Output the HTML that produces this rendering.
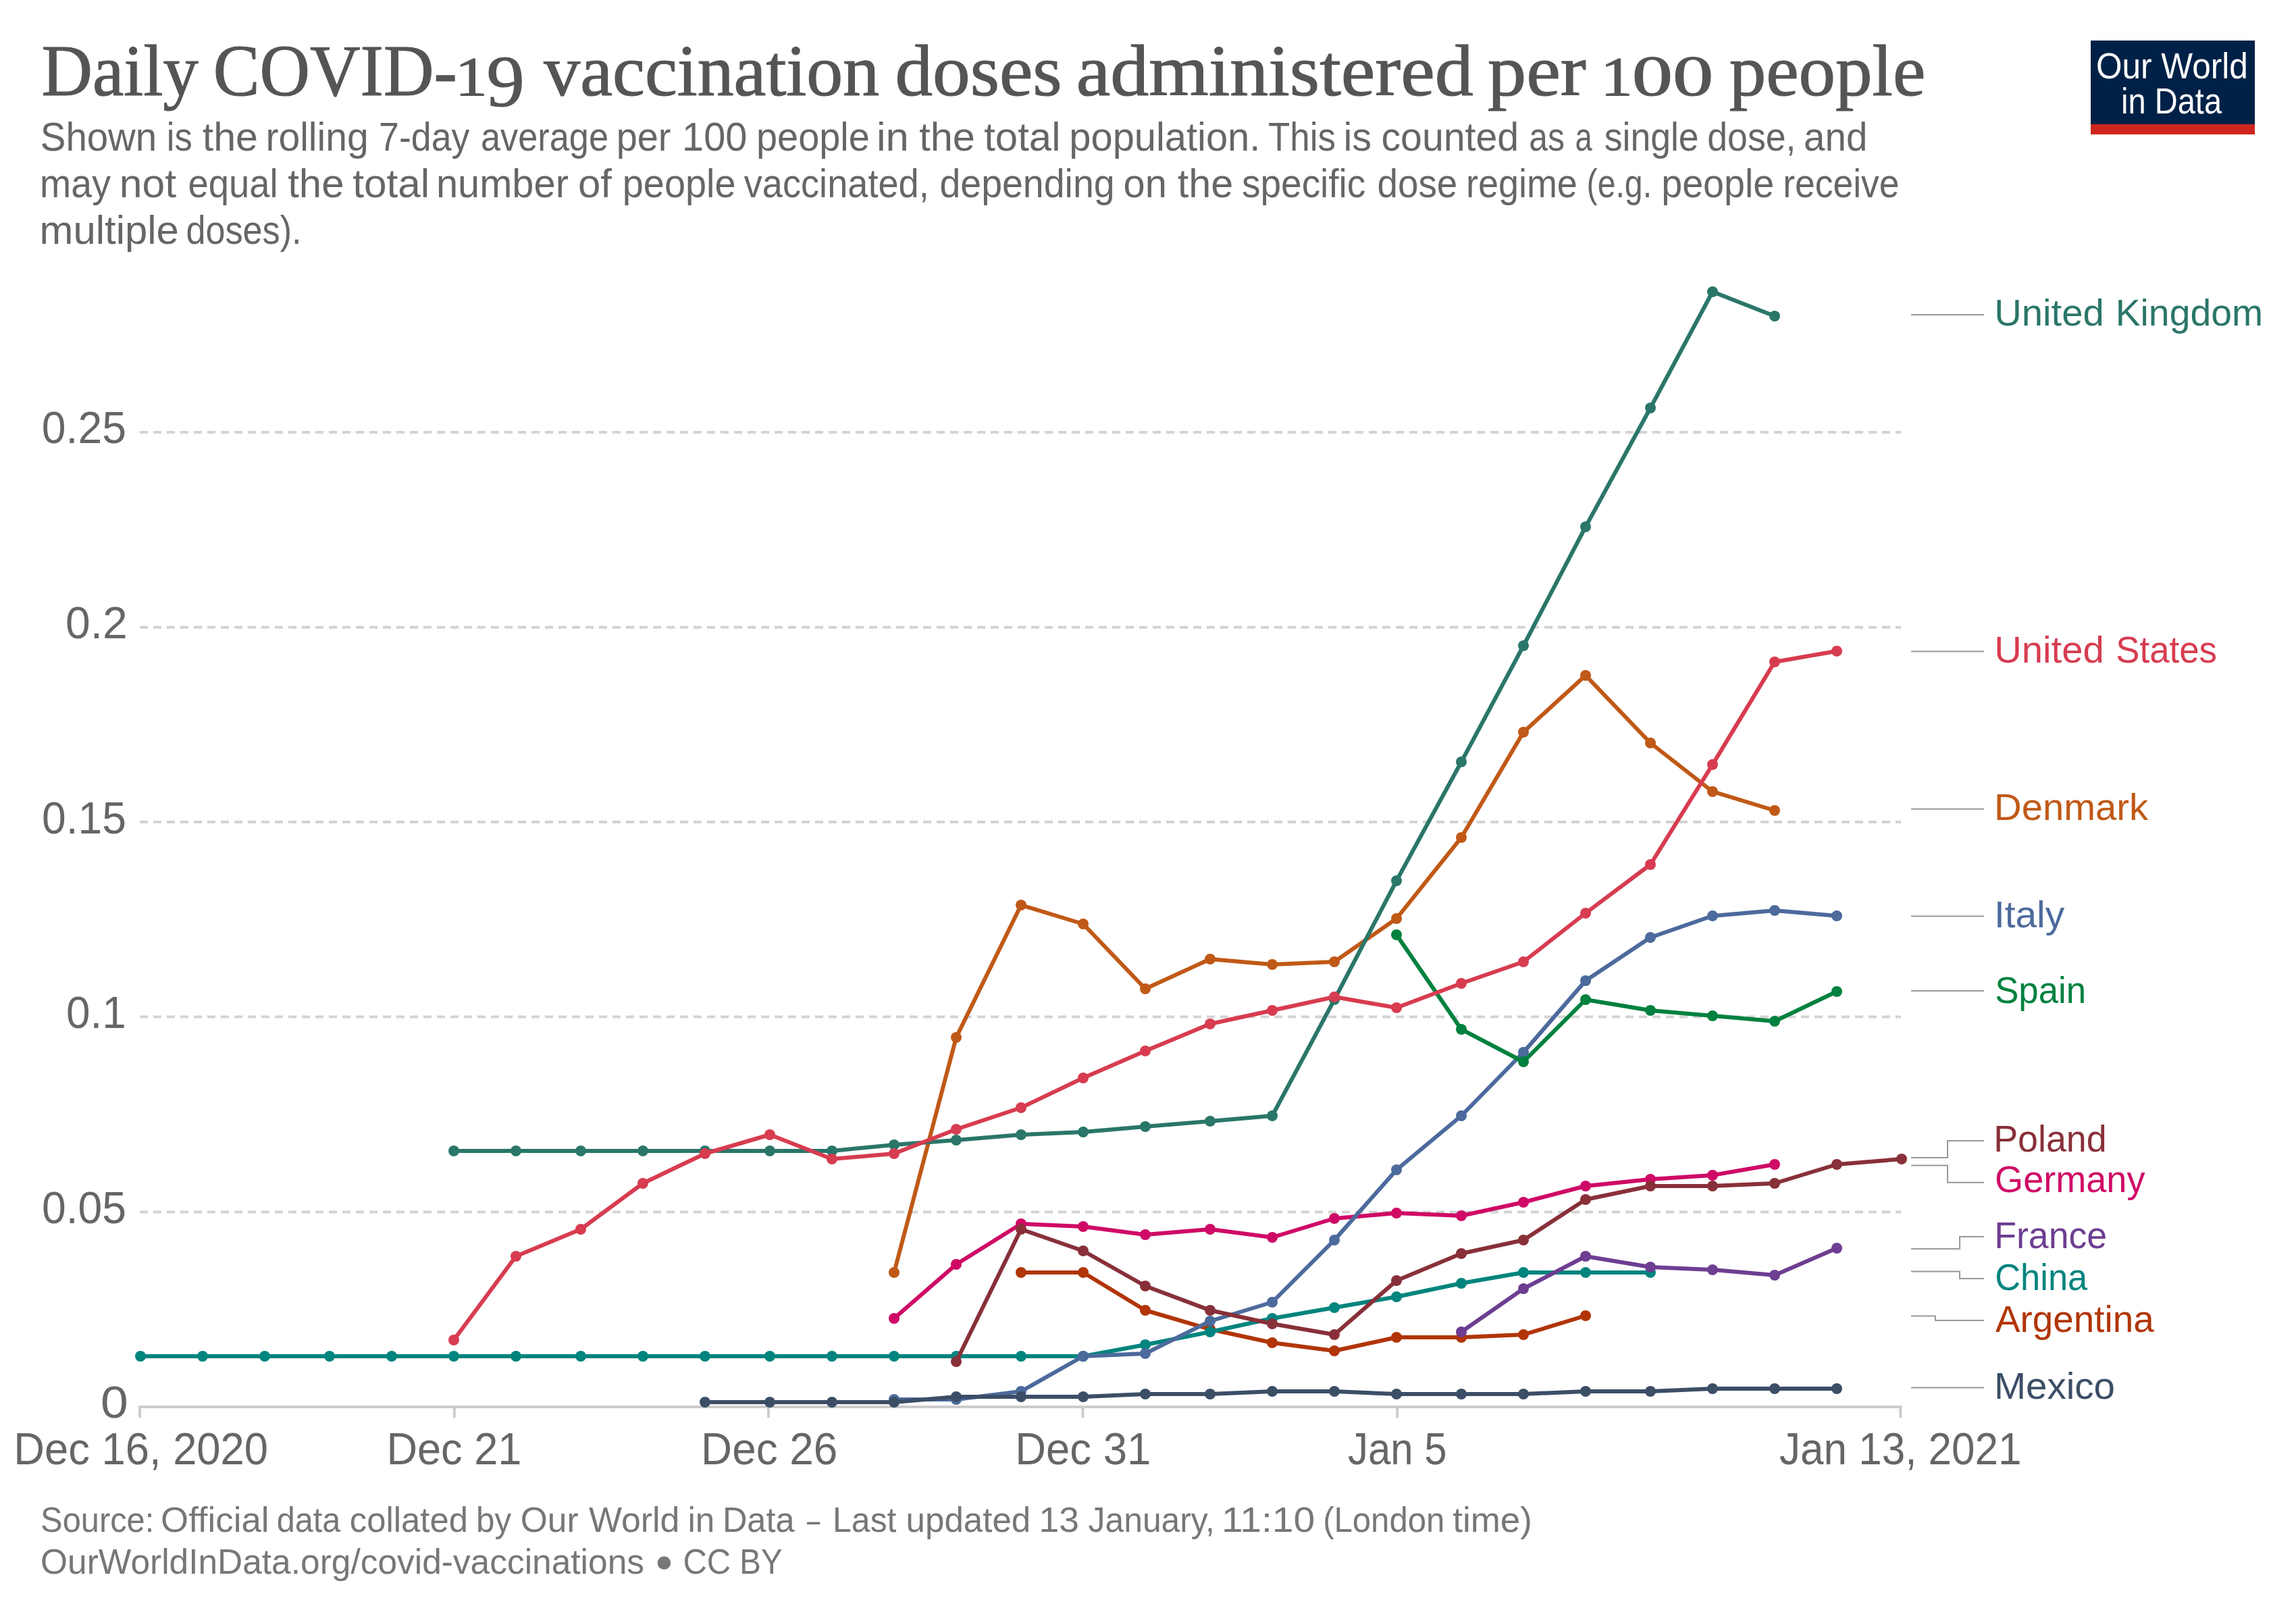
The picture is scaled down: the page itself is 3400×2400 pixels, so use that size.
<!DOCTYPE html>
<html><head><meta charset="utf-8"><style>
html,body{margin:0;padding:0;background:#fff;}
svg{display:block;}
text{font-family:"Liberation Sans",sans-serif;}
.serif{font-family:"Liberation Serif",serif;}
</style></head><body>
<svg width="3400" height="2400" viewBox="0 0 3400 2400">
<rect width="3400" height="2400" fill="#fff"/>
<text class="serif" x="61.5" y="140.6" font-size="107" fill="#555" textLength="232.2" lengthAdjust="spacingAndGlyphs" stroke="#555" stroke-width="1.2">Daily</text>
<text class="serif" x="315.7" y="140.6" font-size="107" fill="#555" textLength="361.1" lengthAdjust="spacingAndGlyphs" stroke="#555" stroke-width="1.2">COVID-</text>
<text class="serif" x="674.0" y="140.6" font-size="82" fill="#555" textLength="47.8" lengthAdjust="spacingAndGlyphs" stroke="#555" stroke-width="1.2">1</text>
<text class="serif" x="720.4" y="157" font-size="107" fill="#555" textLength="56.3" lengthAdjust="spacingAndGlyphs" stroke="#555" stroke-width="1.2">9</text>
<text class="serif" x="805.3" y="140.6" font-size="107" fill="#555" textLength="496.8" lengthAdjust="spacingAndGlyphs" stroke="#555" stroke-width="1.2">vaccination</text>
<text class="serif" x="1325.5" y="140.6" font-size="107" fill="#555" textLength="247.0" lengthAdjust="spacingAndGlyphs" stroke="#555" stroke-width="1.2">doses</text>
<text class="serif" x="1593.7" y="140.6" font-size="107" fill="#555" textLength="588.0" lengthAdjust="spacingAndGlyphs" stroke="#555" stroke-width="1.2">administered</text>
<text class="serif" x="2203.1" y="140.6" font-size="107" fill="#555" textLength="145.8" lengthAdjust="spacingAndGlyphs" stroke="#555" stroke-width="1.2">per</text>
<text class="serif" x="2370.3" y="140.6" font-size="82" fill="#555" textLength="47.5" lengthAdjust="spacingAndGlyphs" stroke="#555" stroke-width="1.2">1</text>
<text class="serif" x="2416.7" y="140.6" font-size="84" fill="#555" textLength="120.6" lengthAdjust="spacingAndGlyphs" stroke="#555" stroke-width="1.2">00</text>
<text class="serif" x="2560.7" y="140.6" font-size="107" fill="#555" textLength="290.6" lengthAdjust="spacingAndGlyphs" stroke="#555" stroke-width="1.2">people</text>
<text x="59.8" y="222.9" font-size="59" fill="#666" textLength="172.4" lengthAdjust="spacingAndGlyphs">Shown</text>
<text x="246.8" y="222.9" font-size="59" fill="#666" textLength="37.9" lengthAdjust="spacingAndGlyphs">is</text>
<text x="299.7" y="222.9" font-size="59" fill="#666" textLength="82.3" lengthAdjust="spacingAndGlyphs">the</text>
<text x="393.4" y="222.9" font-size="59" fill="#666" textLength="152.3" lengthAdjust="spacingAndGlyphs">rolling</text>
<text x="561.1" y="222.9" font-size="59" fill="#666" textLength="134.4" lengthAdjust="spacingAndGlyphs">7-day</text>
<text x="711.9" y="222.9" font-size="59" fill="#666" textLength="189.1" lengthAdjust="spacingAndGlyphs">average</text>
<text x="912.7" y="222.9" font-size="59" fill="#666" textLength="80.8" lengthAdjust="spacingAndGlyphs">per</text>
<text x="1010.1" y="222.9" font-size="59" fill="#666" textLength="96.2" lengthAdjust="spacingAndGlyphs">100</text>
<text x="1120.0" y="222.9" font-size="59" fill="#666" textLength="167.8" lengthAdjust="spacingAndGlyphs">people</text>
<text x="1297.9" y="222.9" font-size="59" fill="#666" textLength="48.0" lengthAdjust="spacingAndGlyphs">in</text>
<text x="1361.2" y="222.9" font-size="59" fill="#666" textLength="82.8" lengthAdjust="spacingAndGlyphs">the</text>
<text x="1457.2" y="222.9" font-size="59" fill="#666" textLength="113.3" lengthAdjust="spacingAndGlyphs">total</text>
<text x="1583.3" y="222.9" font-size="59" fill="#666" textLength="283.0" lengthAdjust="spacingAndGlyphs">population.</text>
<text x="1878.1" y="222.9" font-size="59" fill="#666" textLength="99.7" lengthAdjust="spacingAndGlyphs">This</text>
<text x="1989.4" y="222.9" font-size="59" fill="#666" textLength="41.5" lengthAdjust="spacingAndGlyphs">is</text>
<text x="2045.5" y="222.9" font-size="59" fill="#666" textLength="203.6" lengthAdjust="spacingAndGlyphs">counted</text>
<text x="2264.3" y="222.9" font-size="59" fill="#666" textLength="52.6" lengthAdjust="spacingAndGlyphs">as</text>
<text x="2332.5" y="222.9" font-size="59" fill="#666" textLength="25.2" lengthAdjust="spacingAndGlyphs">a</text>
<text x="2375.8" y="222.9" font-size="59" fill="#666" textLength="139.8" lengthAdjust="spacingAndGlyphs">single</text>
<text x="2528.3" y="222.9" font-size="59" fill="#666" textLength="131.1" lengthAdjust="spacingAndGlyphs">dose,</text>
<text x="2671.1" y="222.9" font-size="59" fill="#666" textLength="94.2" lengthAdjust="spacingAndGlyphs">and</text>
<text x="59.1" y="292.2" font-size="59" fill="#666" textLength="104.8" lengthAdjust="spacingAndGlyphs">may</text>
<text x="176.8" y="292.2" font-size="59" fill="#666" textLength="84.2" lengthAdjust="spacingAndGlyphs">not</text>
<text x="278.4" y="292.2" font-size="59" fill="#666" textLength="133.1" lengthAdjust="spacingAndGlyphs">equal</text>
<text x="426.2" y="292.2" font-size="59" fill="#666" textLength="83.4" lengthAdjust="spacingAndGlyphs">the</text>
<text x="522.2" y="292.2" font-size="59" fill="#666" textLength="113.9" lengthAdjust="spacingAndGlyphs">total</text>
<text x="645.9" y="292.2" font-size="59" fill="#666" textLength="196.0" lengthAdjust="spacingAndGlyphs">number</text>
<text x="855.9" y="292.2" font-size="59" fill="#666" textLength="50.0" lengthAdjust="spacingAndGlyphs">of</text>
<text x="921.8" y="292.2" font-size="59" fill="#666" textLength="167.8" lengthAdjust="spacingAndGlyphs">people</text>
<text x="1101.8" y="292.2" font-size="59" fill="#666" textLength="273.9" lengthAdjust="spacingAndGlyphs">vaccinated,</text>
<text x="1391.4" y="292.2" font-size="59" fill="#666" textLength="259.3" lengthAdjust="spacingAndGlyphs">depending</text>
<text x="1663.6" y="292.2" font-size="59" fill="#666" textLength="64.3" lengthAdjust="spacingAndGlyphs">on</text>
<text x="1743.8" y="292.2" font-size="59" fill="#666" textLength="82.4" lengthAdjust="spacingAndGlyphs">the</text>
<text x="1839.0" y="292.2" font-size="59" fill="#666" textLength="183.3" lengthAdjust="spacingAndGlyphs">specific</text>
<text x="2039.6" y="292.2" font-size="59" fill="#666" textLength="118.6" lengthAdjust="spacingAndGlyphs">dose</text>
<text x="2171.0" y="292.2" font-size="59" fill="#666" textLength="164.8" lengthAdjust="spacingAndGlyphs">regime</text>
<text x="2349.6" y="292.2" font-size="59" fill="#666" textLength="96.5" lengthAdjust="spacingAndGlyphs">(e.g.</text>
<text x="2460.2" y="292.2" font-size="59" fill="#666" textLength="167.1" lengthAdjust="spacingAndGlyphs">people</text>
<text x="2640.2" y="292.2" font-size="59" fill="#666" textLength="172.4" lengthAdjust="spacingAndGlyphs">receive</text>
<text x="58.6" y="360.9" font-size="59" fill="#666" textLength="206.2" lengthAdjust="spacingAndGlyphs">multiple</text>
<text x="275.4" y="360.9" font-size="59" fill="#666" textLength="171.2" lengthAdjust="spacingAndGlyphs">doses).</text>
<rect x="3096" y="60" width="243" height="125" fill="#002147"/>
<rect x="3096" y="184" width="243" height="15" fill="#ce261e"/>
<text x="3103.9" y="115.7" font-size="54" fill="#fff" textLength="224.9" lengthAdjust="spacingAndGlyphs">Our World</text>
<text x="3141.0" y="168" font-size="54" fill="#fff" textLength="149.1" lengthAdjust="spacingAndGlyphs">in Data</text>
<line x1="207" y1="640" x2="2815" y2="640" stroke="#d3d3d3" stroke-width="4" stroke-dasharray="12,8"/>
<line x1="207" y1="928.7" x2="2815" y2="928.7" stroke="#d3d3d3" stroke-width="4" stroke-dasharray="12,8"/>
<line x1="207" y1="1217" x2="2815" y2="1217" stroke="#d3d3d3" stroke-width="4" stroke-dasharray="12,8"/>
<line x1="207" y1="1505.5" x2="2815" y2="1505.5" stroke="#d3d3d3" stroke-width="4" stroke-dasharray="12,8"/>
<line x1="207" y1="1794.4" x2="2815" y2="1794.4" stroke="#d3d3d3" stroke-width="4" stroke-dasharray="12,8"/>
<line x1="205" y1="2083" x2="2816.3" y2="2083" stroke="#ccc" stroke-width="4"/>
<line x1="207" y1="2081" x2="207" y2="2099" stroke="#ccc" stroke-width="4"/>
<text x="20.2" y="2167.7" font-size="66" fill="#666" textLength="376.9" lengthAdjust="spacingAndGlyphs">Dec 16, 2020</text>
<line x1="672.8" y1="2081" x2="672.8" y2="2099" stroke="#ccc" stroke-width="4"/>
<text x="572.4" y="2167.7" font-size="66" fill="#666" textLength="200.1" lengthAdjust="spacingAndGlyphs">Dec 21</text>
<line x1="1138" y1="2081" x2="1138" y2="2099" stroke="#ccc" stroke-width="4"/>
<text x="1038.1" y="2167.7" font-size="66" fill="#666" textLength="202.2" lengthAdjust="spacingAndGlyphs">Dec 26</text>
<line x1="1603.5" y1="2081" x2="1603.5" y2="2099" stroke="#ccc" stroke-width="4"/>
<text x="1503.2" y="2167.7" font-size="66" fill="#666" textLength="201.2" lengthAdjust="spacingAndGlyphs">Dec 31</text>
<line x1="2069.2" y1="2081" x2="2069.2" y2="2099" stroke="#ccc" stroke-width="4"/>
<text x="1996.1" y="2167.7" font-size="66" fill="#666" textLength="146.4" lengthAdjust="spacingAndGlyphs">Jan 5</text>
<line x1="2814.3" y1="2081" x2="2814.3" y2="2099" stroke="#ccc" stroke-width="4"/>
<text x="2635.1" y="2167.7" font-size="66" fill="#666" textLength="358.4" lengthAdjust="spacingAndGlyphs">Jan 13, 2021</text>
<text x="61.8" y="656" font-size="66" fill="#666" textLength="125.2" lengthAdjust="spacingAndGlyphs">0.25</text>
<text x="97.0" y="944.7" font-size="66" fill="#666" textLength="91.8" lengthAdjust="spacingAndGlyphs">0.2</text>
<text x="61.9" y="1233.7" font-size="66" fill="#666" textLength="125.1" lengthAdjust="spacingAndGlyphs">0.15</text>
<text x="98.1" y="1522" font-size="66" fill="#666" textLength="88.8" lengthAdjust="spacingAndGlyphs">0.1</text>
<text x="61.9" y="1811" font-size="66" fill="#666" textLength="125.1" lengthAdjust="spacingAndGlyphs">0.05</text>
<text x="149.1" y="2098.7" font-size="66" fill="#666" textLength="40.8" lengthAdjust="spacingAndGlyphs">0</text>
<g fill="#b13507" stroke="#b13507"><path d="M1512,1884 L1604,1884 L1696,1940 L1792,1968 L1884,1988 L1976,2000 L2068,1980 L2164,1980 L2256,1976 L2348,1948" fill="none" stroke-width="6" stroke-linejoin="round"/>
<circle cx="1512" cy="1884" r="8" stroke="none"/><circle cx="1604" cy="1884" r="8" stroke="none"/><circle cx="1696" cy="1940" r="8" stroke="none"/><circle cx="1792" cy="1968" r="8" stroke="none"/><circle cx="1884" cy="1988" r="8" stroke="none"/><circle cx="1976" cy="2000" r="8" stroke="none"/><circle cx="2068" cy="1980" r="8" stroke="none"/><circle cx="2164" cy="1980" r="8" stroke="none"/><circle cx="2256" cy="1976" r="8" stroke="none"/><circle cx="2348" cy="1948" r="8" stroke="none"/></g>
<g fill="#00847e" stroke="#00847e"><path d="M208,2008 L300,2008 L392,2008 L488,2008 L580,2008 L672,2008 L764,2008 L860,2008 L952,2008 L1044,2008 L1140,2008 L1232,2008 L1324,2008 L1416,2008 L1512,2008 L1604,2008 L1696,1991 L1792,1972 L1884,1952 L1976,1936 L2068,1920 L2164,1900 L2256,1884 L2348,1884 L2444,1884" fill="none" stroke-width="6" stroke-linejoin="round"/>
<circle cx="208" cy="2008" r="8" stroke="none"/><circle cx="300" cy="2008" r="8" stroke="none"/><circle cx="392" cy="2008" r="8" stroke="none"/><circle cx="488" cy="2008" r="8" stroke="none"/><circle cx="580" cy="2008" r="8" stroke="none"/><circle cx="672" cy="2008" r="8" stroke="none"/><circle cx="764" cy="2008" r="8" stroke="none"/><circle cx="860" cy="2008" r="8" stroke="none"/><circle cx="952" cy="2008" r="8" stroke="none"/><circle cx="1044" cy="2008" r="8" stroke="none"/><circle cx="1140" cy="2008" r="8" stroke="none"/><circle cx="1232" cy="2008" r="8" stroke="none"/><circle cx="1324" cy="2008" r="8" stroke="none"/><circle cx="1416" cy="2008" r="8" stroke="none"/><circle cx="1512" cy="2008" r="8" stroke="none"/><circle cx="1604" cy="2008" r="8" stroke="none"/><circle cx="1696" cy="1991" r="8" stroke="none"/><circle cx="1792" cy="1972" r="8" stroke="none"/><circle cx="1884" cy="1952" r="8" stroke="none"/><circle cx="1976" cy="1936" r="8" stroke="none"/><circle cx="2068" cy="1920" r="8" stroke="none"/><circle cx="2164" cy="1900" r="8" stroke="none"/><circle cx="2256" cy="1884" r="8" stroke="none"/><circle cx="2348" cy="1884" r="8" stroke="none"/><circle cx="2444" cy="1884" r="8" stroke="none"/></g>
<g fill="#c05917" stroke="#c05917"><path d="M1324,1884 L1416,1536 L1512,1340 L1604,1368 L1696,1464 L1792,1420 L1884,1428 L1976,1424 L2068,1360 L2164,1240 L2256,1084 L2348,1000 L2444,1100 L2536,1172 L2628,1200" fill="none" stroke-width="6" stroke-linejoin="round"/>
<circle cx="1324" cy="1884" r="8" stroke="none"/><circle cx="1416" cy="1536" r="8" stroke="none"/><circle cx="1512" cy="1340" r="8" stroke="none"/><circle cx="1604" cy="1368" r="8" stroke="none"/><circle cx="1696" cy="1464" r="8" stroke="none"/><circle cx="1792" cy="1420" r="8" stroke="none"/><circle cx="1884" cy="1428" r="8" stroke="none"/><circle cx="1976" cy="1424" r="8" stroke="none"/><circle cx="2068" cy="1360" r="8" stroke="none"/><circle cx="2164" cy="1240" r="8" stroke="none"/><circle cx="2256" cy="1084" r="8" stroke="none"/><circle cx="2348" cy="1000" r="8" stroke="none"/><circle cx="2444" cy="1100" r="8" stroke="none"/><circle cx="2536" cy="1172" r="8" stroke="none"/><circle cx="2628" cy="1200" r="8" stroke="none"/></g>
<g fill="#6d3e91" stroke="#6d3e91"><path d="M2164,1972 L2256,1908 L2348,1860 L2444,1876 L2536,1880 L2628,1888 L2720,1848" fill="none" stroke-width="6" stroke-linejoin="round"/>
<circle cx="2164" cy="1972" r="8" stroke="none"/><circle cx="2256" cy="1908" r="8" stroke="none"/><circle cx="2348" cy="1860" r="8" stroke="none"/><circle cx="2444" cy="1876" r="8" stroke="none"/><circle cx="2536" cy="1880" r="8" stroke="none"/><circle cx="2628" cy="1888" r="8" stroke="none"/><circle cx="2720" cy="1848" r="8" stroke="none"/></g>
<g fill="#cf0a66" stroke="#cf0a66"><path d="M1324,1952 L1416,1872 L1512,1812 L1604,1816 L1696,1828 L1792,1820 L1884,1832 L1976,1804 L2068,1796 L2164,1800 L2256,1780 L2348,1756 L2444,1746 L2536,1740 L2628,1724" fill="none" stroke-width="6" stroke-linejoin="round"/>
<circle cx="1324" cy="1952" r="8" stroke="none"/><circle cx="1416" cy="1872" r="8" stroke="none"/><circle cx="1512" cy="1812" r="8" stroke="none"/><circle cx="1604" cy="1816" r="8" stroke="none"/><circle cx="1696" cy="1828" r="8" stroke="none"/><circle cx="1792" cy="1820" r="8" stroke="none"/><circle cx="1884" cy="1832" r="8" stroke="none"/><circle cx="1976" cy="1804" r="8" stroke="none"/><circle cx="2068" cy="1796" r="8" stroke="none"/><circle cx="2164" cy="1800" r="8" stroke="none"/><circle cx="2256" cy="1780" r="8" stroke="none"/><circle cx="2348" cy="1756" r="8" stroke="none"/><circle cx="2444" cy="1746" r="8" stroke="none"/><circle cx="2536" cy="1740" r="8" stroke="none"/><circle cx="2628" cy="1724" r="8" stroke="none"/></g>
<g fill="#4c6a9c" stroke="#4c6a9c"><path d="M1324,2072 L1416,2072 L1512,2060 L1604,2008 L1696,2004 L1792,1956 L1884,1928 L1976,1836 L2068,1732 L2164,1652 L2256,1558 L2348,1452 L2444,1388 L2536,1356 L2628,1348 L2720,1356" fill="none" stroke-width="6" stroke-linejoin="round"/>
<circle cx="1324" cy="2072" r="8" stroke="none"/><circle cx="1416" cy="2072" r="8" stroke="none"/><circle cx="1512" cy="2060" r="8" stroke="none"/><circle cx="1604" cy="2008" r="8" stroke="none"/><circle cx="1696" cy="2004" r="8" stroke="none"/><circle cx="1792" cy="1956" r="8" stroke="none"/><circle cx="1884" cy="1928" r="8" stroke="none"/><circle cx="1976" cy="1836" r="8" stroke="none"/><circle cx="2068" cy="1732" r="8" stroke="none"/><circle cx="2164" cy="1652" r="8" stroke="none"/><circle cx="2256" cy="1558" r="8" stroke="none"/><circle cx="2348" cy="1452" r="8" stroke="none"/><circle cx="2444" cy="1388" r="8" stroke="none"/><circle cx="2536" cy="1356" r="8" stroke="none"/><circle cx="2628" cy="1348" r="8" stroke="none"/><circle cx="2720" cy="1356" r="8" stroke="none"/></g>
<g fill="#3c4e66" stroke="#3c4e66"><path d="M1044,2076 L1140,2076 L1232,2076 L1324,2076 L1416,2068 L1512,2068 L1604,2068 L1696,2064 L1792,2064 L1884,2060 L1976,2060 L2068,2064 L2164,2064 L2256,2064 L2348,2060 L2444,2060 L2536,2056 L2628,2056 L2720,2056" fill="none" stroke-width="6" stroke-linejoin="round"/>
<circle cx="1044" cy="2076" r="8" stroke="none"/><circle cx="1140" cy="2076" r="8" stroke="none"/><circle cx="1232" cy="2076" r="8" stroke="none"/><circle cx="1324" cy="2076" r="8" stroke="none"/><circle cx="1416" cy="2068" r="8" stroke="none"/><circle cx="1512" cy="2068" r="8" stroke="none"/><circle cx="1604" cy="2068" r="8" stroke="none"/><circle cx="1696" cy="2064" r="8" stroke="none"/><circle cx="1792" cy="2064" r="8" stroke="none"/><circle cx="1884" cy="2060" r="8" stroke="none"/><circle cx="1976" cy="2060" r="8" stroke="none"/><circle cx="2068" cy="2064" r="8" stroke="none"/><circle cx="2164" cy="2064" r="8" stroke="none"/><circle cx="2256" cy="2064" r="8" stroke="none"/><circle cx="2348" cy="2060" r="8" stroke="none"/><circle cx="2444" cy="2060" r="8" stroke="none"/><circle cx="2536" cy="2056" r="8" stroke="none"/><circle cx="2628" cy="2056" r="8" stroke="none"/><circle cx="2720" cy="2056" r="8" stroke="none"/></g>
<g fill="#883039" stroke="#883039"><path d="M1416,2016 L1512,1820 L1604,1852 L1696,1904 L1792,1940 L1884,1960 L1976,1976 L2068,1896 L2164,1856 L2256,1836 L2348,1776 L2444,1756 L2536,1756 L2628,1752 L2720,1724 L2816,1716" fill="none" stroke-width="6" stroke-linejoin="round"/>
<circle cx="1416" cy="2016" r="8" stroke="none"/><circle cx="1512" cy="1820" r="8" stroke="none"/><circle cx="1604" cy="1852" r="8" stroke="none"/><circle cx="1696" cy="1904" r="8" stroke="none"/><circle cx="1792" cy="1940" r="8" stroke="none"/><circle cx="1884" cy="1960" r="8" stroke="none"/><circle cx="1976" cy="1976" r="8" stroke="none"/><circle cx="2068" cy="1896" r="8" stroke="none"/><circle cx="2164" cy="1856" r="8" stroke="none"/><circle cx="2256" cy="1836" r="8" stroke="none"/><circle cx="2348" cy="1776" r="8" stroke="none"/><circle cx="2444" cy="1756" r="8" stroke="none"/><circle cx="2536" cy="1756" r="8" stroke="none"/><circle cx="2628" cy="1752" r="8" stroke="none"/><circle cx="2720" cy="1724" r="8" stroke="none"/><circle cx="2816" cy="1716" r="8" stroke="none"/></g>
<g fill="#00813f" stroke="#00813f"><path d="M2068,1384 L2164,1524 L2256,1572 L2348,1480 L2444,1496 L2536,1504 L2628,1512 L2720,1468" fill="none" stroke-width="6" stroke-linejoin="round"/>
<circle cx="2068" cy="1384" r="8" stroke="none"/><circle cx="2164" cy="1524" r="8" stroke="none"/><circle cx="2256" cy="1572" r="8" stroke="none"/><circle cx="2348" cy="1480" r="8" stroke="none"/><circle cx="2444" cy="1496" r="8" stroke="none"/><circle cx="2536" cy="1504" r="8" stroke="none"/><circle cx="2628" cy="1512" r="8" stroke="none"/><circle cx="2720" cy="1468" r="8" stroke="none"/></g>
<g fill="#2a7669" stroke="#2a7669"><path d="M672,1704 L764,1704 L860,1704 L952,1704 L1044,1704 L1140,1704 L1232,1704 L1324,1695 L1416,1688 L1512,1680 L1604,1676 L1696,1668 L1792,1660 L1884,1652 L1976,1480 L2068,1304 L2164,1128 L2256,956 L2348,780 L2444,604 L2536,432 L2628,468" fill="none" stroke-width="6" stroke-linejoin="round"/>
<circle cx="672" cy="1704" r="8" stroke="none"/><circle cx="764" cy="1704" r="8" stroke="none"/><circle cx="860" cy="1704" r="8" stroke="none"/><circle cx="952" cy="1704" r="8" stroke="none"/><circle cx="1044" cy="1704" r="8" stroke="none"/><circle cx="1140" cy="1704" r="8" stroke="none"/><circle cx="1232" cy="1704" r="8" stroke="none"/><circle cx="1324" cy="1695" r="8" stroke="none"/><circle cx="1416" cy="1688" r="8" stroke="none"/><circle cx="1512" cy="1680" r="8" stroke="none"/><circle cx="1604" cy="1676" r="8" stroke="none"/><circle cx="1696" cy="1668" r="8" stroke="none"/><circle cx="1792" cy="1660" r="8" stroke="none"/><circle cx="1884" cy="1652" r="8" stroke="none"/><circle cx="1976" cy="1480" r="8" stroke="none"/><circle cx="2068" cy="1304" r="8" stroke="none"/><circle cx="2164" cy="1128" r="8" stroke="none"/><circle cx="2256" cy="956" r="8" stroke="none"/><circle cx="2348" cy="780" r="8" stroke="none"/><circle cx="2444" cy="604" r="8" stroke="none"/><circle cx="2536" cy="432" r="8" stroke="none"/><circle cx="2628" cy="468" r="8" stroke="none"/></g>
<g fill="#d73c50" stroke="#d73c50"><path d="M672,1984 L764,1860 L860,1820 L952,1752 L1044,1708 L1140,1680 L1232,1716 L1324,1708 L1416,1672 L1512,1640 L1604,1596 L1696,1556 L1792,1516 L1884,1496 L1976,1476 L2068,1492 L2164,1456 L2256,1424 L2348,1352 L2444,1280 L2536,1132 L2628,980 L2720,964" fill="none" stroke-width="6" stroke-linejoin="round"/>
<circle cx="672" cy="1984" r="8" stroke="none"/><circle cx="764" cy="1860" r="8" stroke="none"/><circle cx="860" cy="1820" r="8" stroke="none"/><circle cx="952" cy="1752" r="8" stroke="none"/><circle cx="1044" cy="1708" r="8" stroke="none"/><circle cx="1140" cy="1680" r="8" stroke="none"/><circle cx="1232" cy="1716" r="8" stroke="none"/><circle cx="1324" cy="1708" r="8" stroke="none"/><circle cx="1416" cy="1672" r="8" stroke="none"/><circle cx="1512" cy="1640" r="8" stroke="none"/><circle cx="1604" cy="1596" r="8" stroke="none"/><circle cx="1696" cy="1556" r="8" stroke="none"/><circle cx="1792" cy="1516" r="8" stroke="none"/><circle cx="1884" cy="1496" r="8" stroke="none"/><circle cx="1976" cy="1476" r="8" stroke="none"/><circle cx="2068" cy="1492" r="8" stroke="none"/><circle cx="2164" cy="1456" r="8" stroke="none"/><circle cx="2256" cy="1424" r="8" stroke="none"/><circle cx="2348" cy="1352" r="8" stroke="none"/><circle cx="2444" cy="1280" r="8" stroke="none"/><circle cx="2536" cy="1132" r="8" stroke="none"/><circle cx="2628" cy="980" r="8" stroke="none"/><circle cx="2720" cy="964" r="8" stroke="none"/></g>
<path d="M2830,466 L2938,466" fill="none" stroke="#999" stroke-width="2"/>
<text x="2953.3" y="482.2" font-size="56" fill="#2a7669" textLength="162.4" lengthAdjust="spacingAndGlyphs">United</text>
<text x="3132.7" y="482.2" font-size="56" fill="#2a7669" textLength="218.3" lengthAdjust="spacingAndGlyphs">Kingdom</text>
<path d="M2830,964.5 L2938,964.5" fill="none" stroke="#999" stroke-width="2"/>
<text x="2953.3" y="981.1" font-size="56" fill="#d73c50" textLength="162.4" lengthAdjust="spacingAndGlyphs">United</text>
<text x="3133.3" y="981.1" font-size="56" fill="#d73c50" textLength="149.6" lengthAdjust="spacingAndGlyphs">States</text>
<path d="M2830,1197.8 L2938,1197.8" fill="none" stroke="#999" stroke-width="2"/>
<text x="2953.1" y="1214" font-size="56" fill="#c05917" textLength="228.1" lengthAdjust="spacingAndGlyphs">Denmark</text>
<path d="M2830,1356.4 L2938,1356.4" fill="none" stroke="#999" stroke-width="2"/>
<text x="2952.9" y="1373.4" font-size="56" fill="#4c6a9c" textLength="104.2" lengthAdjust="spacingAndGlyphs">Italy</text>
<path d="M2830,1467 L2938,1467" fill="none" stroke="#999" stroke-width="2"/>
<text x="2954.2" y="1484.5" font-size="56" fill="#00813f" textLength="134.9" lengthAdjust="spacingAndGlyphs">Spain</text>
<path d="M2830,1714 L2884,1714 L2884,1689 L2938,1689" fill="none" stroke="#999" stroke-width="2"/>
<text x="2952.2" y="1705" font-size="56" fill="#883039" textLength="167.5" lengthAdjust="spacingAndGlyphs">Poland</text>
<path d="M2830,1725.5 L2884,1725.5 L2884,1750.8 L2938,1750.8" fill="none" stroke="#999" stroke-width="2"/>
<text x="2954.1" y="1765.2" font-size="56" fill="#cf0a66" textLength="222.4" lengthAdjust="spacingAndGlyphs">Germany</text>
<path d="M2830,1849 L2902,1849 L2902,1831 L2938,1831" fill="none" stroke="#999" stroke-width="2"/>
<text x="2953.2" y="1848" font-size="56" fill="#6d3e91" textLength="167.0" lengthAdjust="spacingAndGlyphs">France</text>
<path d="M2830,1882.4 L2902,1882.4 L2902,1893 L2938,1893" fill="none" stroke="#999" stroke-width="2"/>
<text x="2954.2" y="1910.2" font-size="56" fill="#00847e" textLength="137.1" lengthAdjust="spacingAndGlyphs">China</text>
<path d="M2830,1948.5 L2866,1948.5 L2866,1955 L2938,1955" fill="none" stroke="#999" stroke-width="2"/>
<text x="2955.0" y="1972" font-size="56" fill="#b13507" textLength="234.7" lengthAdjust="spacingAndGlyphs">Argentina</text>
<path d="M2830,2054.5 L2938,2054.5" fill="none" stroke="#999" stroke-width="2"/>
<text x="2953.0" y="2070.6" font-size="56" fill="#3c4e66" textLength="179.0" lengthAdjust="spacingAndGlyphs">Mexico</text>
<text x="60.1" y="2267.7" font-size="52" fill="#777" textLength="168.2" lengthAdjust="spacingAndGlyphs">Source:</text>
<text x="238.1" y="2267.7" font-size="52" fill="#777" textLength="160.4" lengthAdjust="spacingAndGlyphs">Official</text>
<text x="409.7" y="2267.7" font-size="52" fill="#777" textLength="94.6" lengthAdjust="spacingAndGlyphs">data</text>
<text x="517.8" y="2267.7" font-size="52" fill="#777" textLength="175.1" lengthAdjust="spacingAndGlyphs">collated</text>
<text x="705.0" y="2267.7" font-size="52" fill="#777" textLength="52.1" lengthAdjust="spacingAndGlyphs">by</text>
<text x="770.8" y="2267.7" font-size="52" fill="#777" textLength="85.8" lengthAdjust="spacingAndGlyphs">Our</text>
<text x="871.9" y="2267.7" font-size="52" fill="#777" textLength="134.5" lengthAdjust="spacingAndGlyphs">World</text>
<text x="1018.4" y="2267.7" font-size="52" fill="#777" textLength="39.9" lengthAdjust="spacingAndGlyphs">in</text>
<text x="1069.9" y="2267.7" font-size="52" fill="#777" textLength="106.6" lengthAdjust="spacingAndGlyphs">Data</text>
<text x="1194.9" y="2267.7" font-size="52" fill="#777" textLength="19.3" lengthAdjust="spacingAndGlyphs">–</text>
<text x="1233.1" y="2267.7" font-size="52" fill="#777" textLength="94.4" lengthAdjust="spacingAndGlyphs">Last</text>
<text x="1341.6" y="2267.7" font-size="52" fill="#777" textLength="184.6" lengthAdjust="spacingAndGlyphs">updated</text>
<text x="1538.6" y="2267.7" font-size="52" fill="#777" textLength="59.3" lengthAdjust="spacingAndGlyphs">13</text>
<text x="1611.6" y="2267.7" font-size="52" fill="#777" textLength="187.3" lengthAdjust="spacingAndGlyphs">January,</text>
<text x="1808.9" y="2267.7" font-size="52" fill="#777" textLength="138.3" lengthAdjust="spacingAndGlyphs">11:10</text>
<text x="1959.2" y="2267.7" font-size="52" fill="#777" textLength="180.1" lengthAdjust="spacingAndGlyphs">(London</text>
<text x="2151.3" y="2267.7" font-size="52" fill="#777" textLength="117.5" lengthAdjust="spacingAndGlyphs">time)</text>
<text x="60.0" y="2329.8" font-size="52" fill="#777" textLength="894.0" lengthAdjust="spacingAndGlyphs">OurWorldInData.org/covid-vaccinations</text>
<text x="1011.4" y="2329.8" font-size="52" fill="#777" textLength="70.7" lengthAdjust="spacingAndGlyphs">CC</text>
<text x="1095.3" y="2329.8" font-size="52" fill="#777" textLength="63.2" lengthAdjust="spacingAndGlyphs">BY</text>
<circle cx="983.4" cy="2314" r="9.8" fill="#777"/>
</svg>
</body></html>
